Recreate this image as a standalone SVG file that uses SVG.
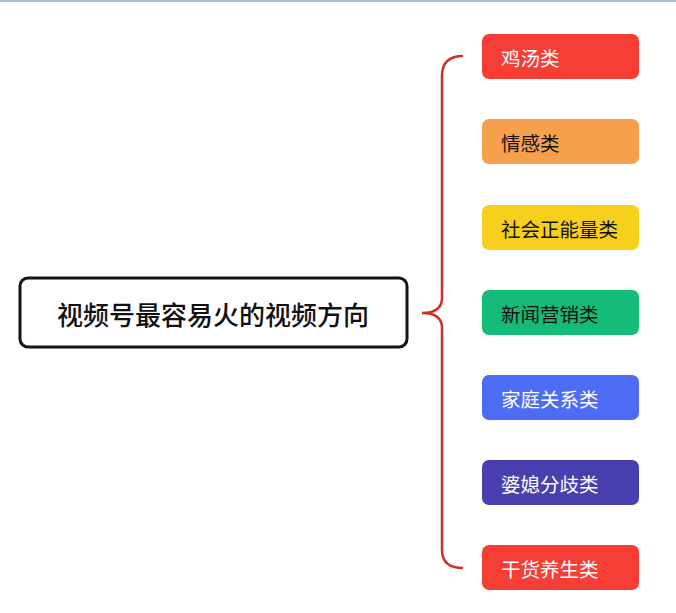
<svg xmlns="http://www.w3.org/2000/svg" width="676" height="613" viewBox="0 0 676 613">
<style>
text{font-family:"Noto Sans CJK SC",sans-serif;font-size:19.5px;font-weight:400;dominant-baseline:central}
.n rect{stroke:none}
.w{fill:#fff}.k{fill:#111}
</style>
<rect width="676" height="613" fill="#fff"/>
<line x1="0" y1="1" x2="676" y2="1" stroke="#a9b9dc" stroke-width="2"/>
<g id="connectors">
<path d="M463,56 Q442,56 442,76 L442,298 Q442,313 422,313 Q442,313 442,328 L442,550 Q442,568 463,568" fill="none" stroke="#d0302a" stroke-width="2.5"/>
</g>
<g id="root"><rect x="20" y="278" width="387" height="69" rx="8" fill="#fff" stroke="#15131f" stroke-width="3"/><text x="213" y="313" text-anchor="middle" class="k" style="font-size:26px;font-weight:500">视频号最容易火的视频方向</text></g>
<g id="n1" class="n"><rect x="482" y="34" width="157" height="45" rx="7" fill="#f63e36"/><text x="501" y="57" class="w">鸡汤类</text></g>
<g id="n2" class="n"><rect x="482" y="119" width="157" height="45" rx="7" fill="#f7a04b"/><text x="501" y="142" class="k">情感类</text></g>
<g id="n3" class="n"><rect x="482" y="205" width="157" height="45" rx="7" fill="#f6d01c"/><text x="501" y="228" class="k">社会正能量类</text></g>
<g id="n4" class="n"><rect x="482" y="290" width="157" height="45" rx="7" fill="#15bb78"/><text x="501" y="313" class="k">新闻营销类</text></g>
<g id="n5" class="n"><rect x="482" y="375" width="157" height="45" rx="7" fill="#4d6cf6"/><text x="501" y="398" class="w">家庭关系类</text></g>
<g id="n6" class="n"><rect x="482" y="460" width="157" height="45" rx="7" fill="#4a3fae"/><text x="501" y="483" class="w">婆媳分歧类</text></g>
<g id="n7" class="n"><rect x="482" y="545" width="157" height="45" rx="7" fill="#f63e36"/><text x="501" y="568" class="w">干货养生类</text></g>
</svg>
